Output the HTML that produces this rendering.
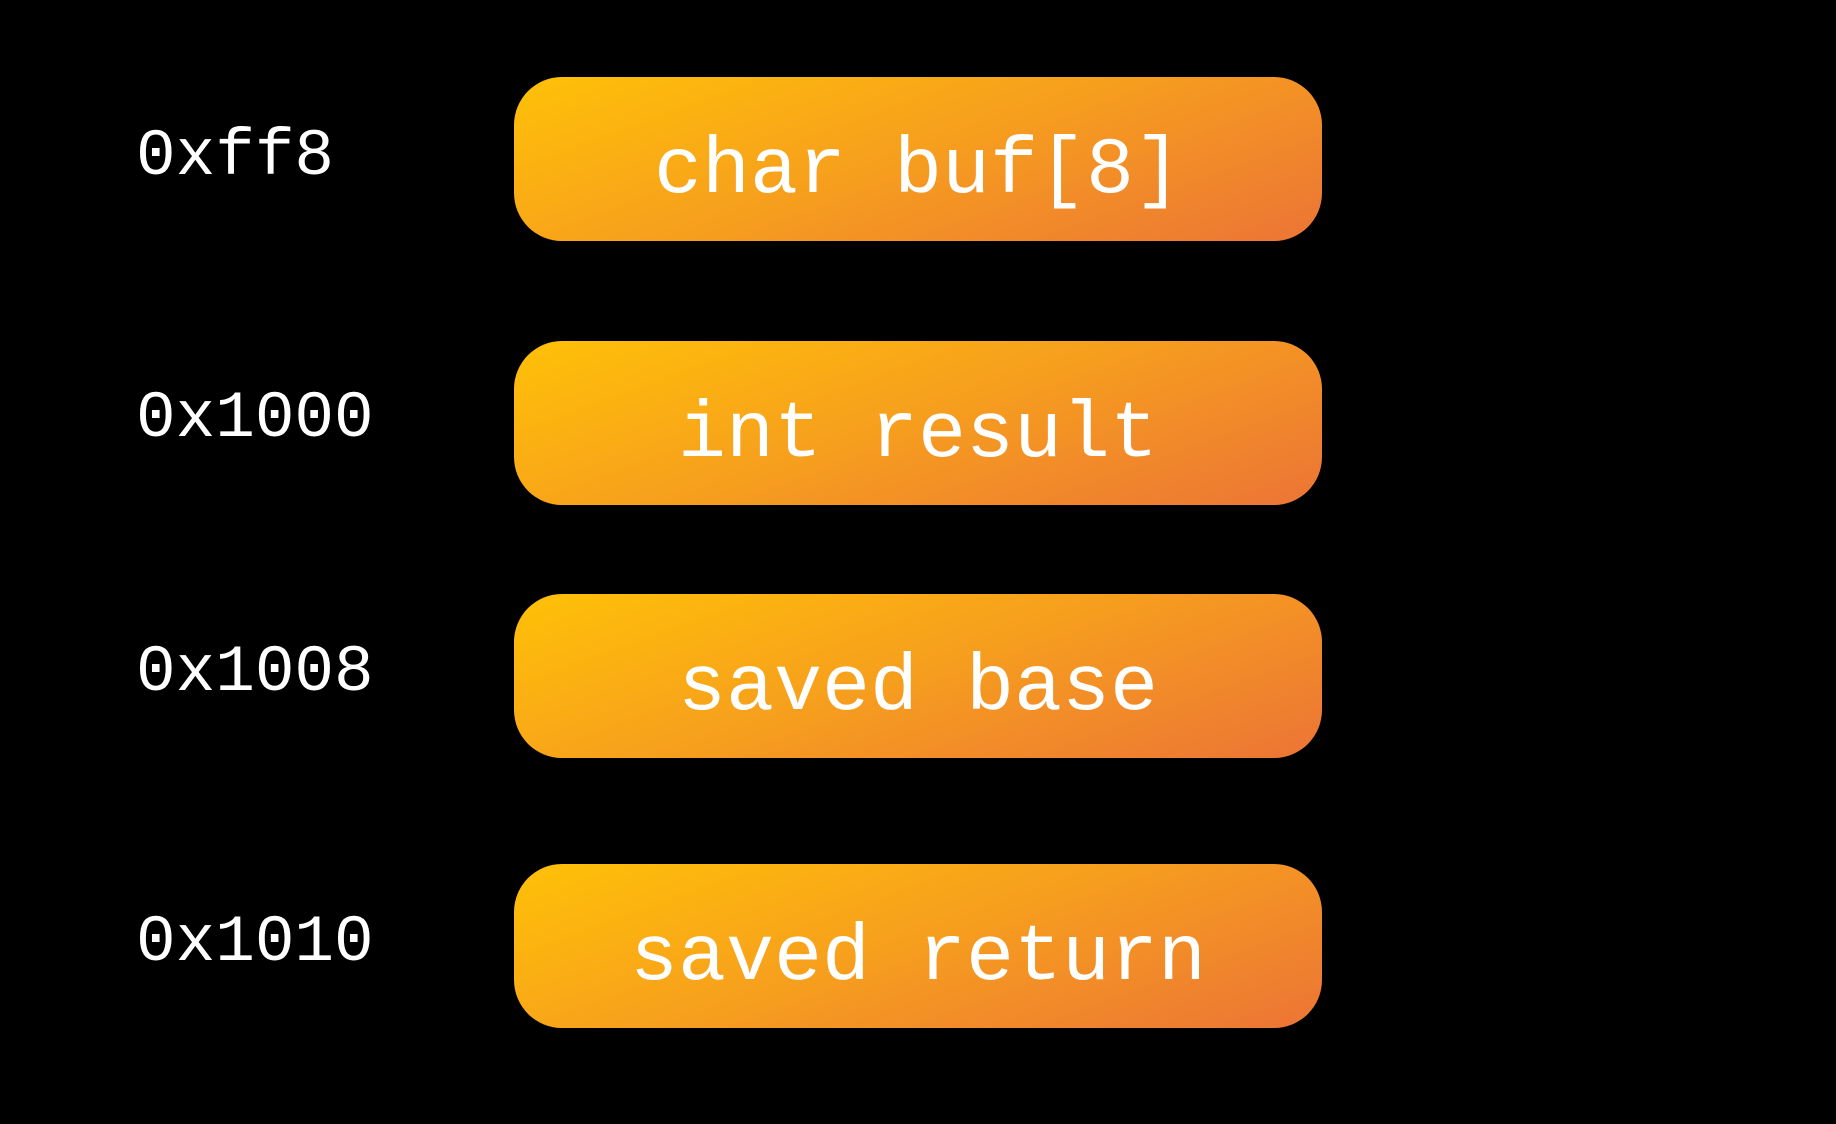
<!DOCTYPE html>
<html><head><meta charset="utf-8"><style>
html,body{margin:0;padding:0;background:#000;}
body{width:1836px;height:1124px;position:relative;overflow:hidden;font-family:"Liberation Mono","DejaVu Sans Mono",monospace;color:#fff;}
.box{position:absolute;left:514px;width:808px;height:164px;border-radius:48px;background:linear-gradient(160deg,#ffc107 0%,#f7a11c 45%,#ec7436 100%);display:flex;align-items:center;justify-content:center;font-size:80px;line-height:1;padding-top:26px;box-sizing:border-box;}
.lab{position:absolute;left:136px;font-size:66px;line-height:1;}
</style></head><body>
<div class="lab" style="top:124px">0xff8</div>
<div class="box" style="top:77px">char buf[8]</div>
<div class="lab" style="top:386px">0x1000</div>
<div class="box" style="top:341px">int result</div>
<div class="lab" style="top:640px">0x1008</div>
<div class="box" style="top:594px">saved base</div>
<div class="lab" style="top:910px">0x1010</div>
<div class="box" style="top:864px">saved return</div>
</body></html>
